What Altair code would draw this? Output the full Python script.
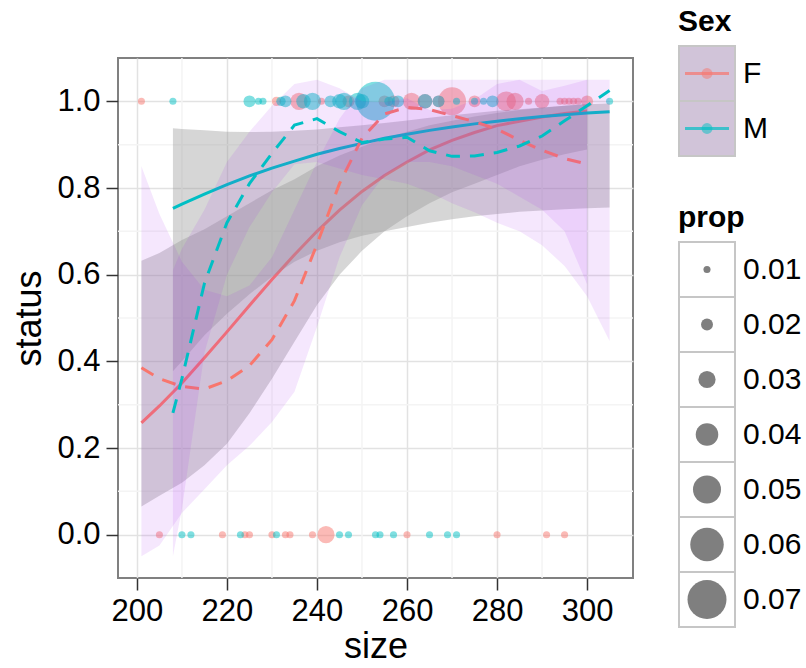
import altair as alt
import pandas as pd

FONT = "Liberation Sans"
F_COL = "#F8766D"
M_COL = "#00BFC4"

# ---------------- observed points ----------------
top_F_size = [201, 231, 236, 241, 247, 255, 257, 261, 264, 267, 270, 275, 282, 284, 287, 290, 294, 295, 296, 297, 298, 300]
top_F_prop = [0.01, 0.015, 0.03, 0.01, 0.02, 0.02, 0.02, 0.03, 0.025, 0.02, 0.05, 0.02, 0.035, 0.03, 0.01, 0.025, 0.01, 0.01, 0.01, 0.01, 0.01, 0.02]
top_M_size = [208, 225, 227, 228, 232, 233, 237, 239, 243, 245, 246, 249, 250, 253, 256, 258, 264, 267, 271, 275, 277, 279, 305]
top_M_prop = [0.01, 0.02, 0.01, 0.01, 0.015, 0.02, 0.025, 0.03, 0.02, 0.025, 0.03, 0.03, 0.025, 0.07, 0.015, 0.02, 0.025, 0.02, 0.01, 0.01, 0.01, 0.02, 0.01]
bot_F_size = [205, 219, 224, 225, 230, 233, 234, 239, 242, 260, 280, 291, 295]
bot_F_prop = [0.01, 0.01, 0.01, 0.01, 0.01, 0.01, 0.01, 0.01, 0.03, 0.01, 0.01, 0.01, 0.01]
bot_M_size = [210, 212, 223, 231, 245, 247, 253, 254, 257, 265, 269, 271]
bot_M_prop = [0.01, 0.01, 0.01, 0.01, 0.01, 0.01, 0.01, 0.01, 0.01, 0.01, 0.01, 0.01]

# ---------------- smooths ----------------
fx = [201, 205, 210, 215, 220, 225, 230, 235, 240, 245, 250, 255, 260, 265, 270, 275, 280, 285, 290, 295, 300]
f_glm = [0.258, 0.297, 0.350, 0.408, 0.468, 0.529, 0.589, 0.646, 0.700, 0.749, 0.792, 0.829, 0.860, 0.888, 0.910, 0.928, 0.944, 0.954, 0.964, 0.972, 0.978]
f_glm_lo = [0.065, 0.09, 0.12, 0.16, 0.21, 0.28, 0.36, 0.445, 0.53, 0.60, 0.655, 0.70, 0.735, 0.765, 0.79, 0.81, 0.83, 0.85, 0.865, 0.878, 0.889]
f_glm_hi = [0.632, 0.65, 0.68, 0.705, 0.735, 0.765, 0.795, 0.82, 0.85, 0.875, 0.895, 0.915, 0.93, 0.945, 0.955, 0.965, 0.973, 0.98, 0.985, 0.99, 0.994]
f_loess = [0.385, 0.36, 0.342, 0.336, 0.355, 0.39, 0.45, 0.54, 0.67, 0.81, 0.915, 0.971, 0.986, 0.981, 0.967, 0.953, 0.936, 0.91, 0.887, 0.868, 0.855]
f_loess_lo = [-0.05, -0.025, 0.05, 0.105, 0.16, 0.205, 0.26, 0.33, 0.48, 0.64, 0.76, 0.83, 0.86, 0.86, 0.85, 0.83, 0.81, 0.78, 0.75, 0.70, 0.578]
f_loess_hi = [0.85, 0.74, 0.63, 0.565, 0.55, 0.575, 0.64, 0.75, 0.86, 0.96, 1.03, 1.05, 1.05, 1.05, 1.05, 1.05, 1.05, 1.05, 1.024, 1.036, 1.05]

mx = [208, 210, 215, 220, 225, 230, 235, 240, 245, 250, 255, 260, 265, 270, 275, 280, 285, 290, 295, 300, 305]
m_glm = [0.753, 0.763, 0.786, 0.808, 0.828, 0.846, 0.862, 0.878, 0.891, 0.903, 0.915, 0.924, 0.933, 0.941, 0.948, 0.954, 0.960, 0.965, 0.969, 0.973, 0.976]
m_glm_lo = [0.377, 0.40, 0.46, 0.51, 0.555, 0.595, 0.63, 0.655, 0.675, 0.69, 0.70, 0.71, 0.72, 0.728, 0.735, 0.74, 0.745, 0.748, 0.751, 0.753, 0.755]
m_glm_hi = [0.938, 0.936, 0.933, 0.93, 0.929, 0.93, 0.932, 0.935, 0.94, 0.945, 0.95, 0.956, 0.962, 0.968, 0.973, 0.978, 0.982, 0.986, 0.99, 0.993, 0.995]
m_loess = [0.281, 0.36, 0.58, 0.72, 0.81, 0.88, 0.945, 0.96, 0.93, 0.905, 0.913, 0.917, 0.886, 0.873, 0.874, 0.882, 0.897, 0.92, 0.955, 0.99, 1.025]
m_loess_lo = [-0.05, 0.06, 0.42, 0.60, 0.71, 0.79, 0.855, 0.86, 0.845, 0.83, 0.82, 0.81, 0.79, 0.765, 0.744, 0.72, 0.70, 0.668, 0.62, 0.55, 0.447]
m_loess_hi = [0.61, 0.66, 0.75, 0.86, 0.93, 0.99, 1.04, 1.05, 1.03, 1.0, 0.998, 1.007, 0.98, 0.983, 1.004, 1.04, 1.05, 1.05, 1.05, 1.05, 1.05]

x_ticks = [200, 220, 240, 260, 280, 300]
y_ticks = [0.0, 0.2, 0.4, 0.6, 0.8, 1.0]
x_minor = [210, 230, 250, 270, 290]
y_minor = [0.1, 0.3, 0.5, 0.7, 0.9]
sex_levels = ["F", "M"]
prop_levels = [0.01, 0.02, 0.03, 0.04, 0.05, 0.06, 0.07]

# ---------------- tables ----------------
pts = pd.concat([
    pd.DataFrame({"size": top_F_size, "status": 1.0, "Sex": "F", "prop": top_F_prop}),
    pd.DataFrame({"size": top_M_size, "status": 1.0, "Sex": "M", "prop": top_M_prop}),
    pd.DataFrame({"size": bot_F_size, "status": 0.0, "Sex": "F", "prop": bot_F_prop}),
    pd.DataFrame({"size": bot_M_size, "status": 0.0, "Sex": "M", "prop": bot_M_prop}),
], ignore_index=True)
f_df = pd.DataFrame({"x": fx, "glm": f_glm, "glo": f_glm_lo, "ghi": f_glm_hi,
                     "loess": f_loess, "llo": f_loess_lo, "lhi": f_loess_hi})
m_df = pd.DataFrame({"x": mx, "glm": m_glm, "glo": m_glm_lo, "ghi": m_glm_hi,
                     "loess": m_loess, "llo": m_loess_lo, "lhi": m_loess_hi})

xs = alt.Scale(domain=[195.8, 310.2], nice=False, zero=False)
ys = alt.Scale(domain=[-0.1, 1.1], nice=False, zero=False)
color_scale = alt.Scale(domain=sex_levels, range=[F_COL, M_COL])
size_scale = alt.Scale(type="pow", exponent=2, domain=[0.01, 0.07], range=[50, 1520], zero=False)

x_axis = alt.Axis(values=x_ticks, format="d", labelFlush=False, titlePadding=3)
y_axis = alt.Axis(values=y_ticks, format=".1f")


def X(f):
    return alt.X(f"{f}:Q", scale=xs, title="size", axis=x_axis)


def Y(f):
    return alt.Y(f"{f}:Q", scale=ys, title="status", axis=y_axis)


minor_v = alt.Chart(pd.DataFrame({"v": x_minor})).mark_rule(color="#f4f4f4", strokeWidth=1.5).encode(x=X("v"))
minor_h = alt.Chart(pd.DataFrame({"v": y_minor})).mark_rule(color="#f4f4f4", strokeWidth=1.5).encode(y=Y("v"))

points = alt.Chart(pts).mark_circle(opacity=0.5).encode(
    x=X("size"), y=Y("status"),
    color=alt.Color("Sex:N", scale=color_scale, legend=None),
    size=alt.Size("prop:Q", scale=size_scale, legend=None),
)


def grey_band(df):
    return alt.Chart(df).mark_area(color="#999999", opacity=0.4).encode(x=X("x"), y=Y("glo"), y2="ghi")


def purple_band(df):
    return alt.Chart(df).mark_area(color="#A020F0", opacity=0.11).encode(x=X("x"), y=Y("llo"), y2="lhi")


def solid(df, col):
    return alt.Chart(df).mark_line(color=col, strokeWidth=3).encode(x=X("x"), y=Y("glm"))


def dashed(df, col):
    return alt.Chart(df).mark_line(color=col, strokeWidth=3, strokeDash=[14, 10]).encode(x=X("x"), y=Y("loess"))


main = alt.layer(
    minor_v, minor_h, points,
    grey_band(f_df), solid(f_df, F_COL), grey_band(m_df), solid(m_df, M_COL),
    purple_band(f_df), dashed(f_df, F_COL), purple_band(m_df), dashed(m_df, M_COL),
).properties(
    width=515, height=520,
    view=alt.ViewBackground(stroke="#808080", strokeWidth=2),
)

# thin invisible strip above the panel so the legends can start higher than the panel
spacer = alt.Chart(pd.DataFrame({"v": [0]})).mark_point(opacity=0).encode(
    x=alt.X("v:Q", axis=None), y=alt.Y("v:Q", axis=None)
).properties(width=515, height=1, view=alt.ViewBackground(strokeWidth=0))

main_col = alt.vconcat(spacer, main, spacing=6)

# ---------------- hand-built legends ----------------
sex_df = pd.DataFrame({"Sex": sex_levels, "k": "a"})
sx = alt.X("k:N", scale=alt.Scale(paddingInner=0, paddingOuter=0), axis=None)
sy = alt.Y("Sex:N", scale=alt.Scale(domain=sex_levels, paddingInner=0, paddingOuter=0), axis=None)
sbase = alt.Chart(sex_df).encode(x=sx, y=sy)
sex_leg = alt.layer(
    sbase.mark_rect(fill="#d1c4d9", stroke="#c6c6c6", strokeWidth=2),
    sbase.mark_circle(size=120, opacity=0.5).encode(color=alt.Color("Sex:N", scale=color_scale, legend=None)),
    sbase.mark_tick(orient="horizontal", size=44, thickness=3).encode(color=alt.Color("Sex:N", scale=color_scale, legend=None)),
    sbase.mark_text(align="left", dx=36, fontSize=30, font=FONT, color="black").encode(text="Sex:N"),
).properties(
    width=56, height=110,
    view=alt.ViewBackground(strokeWidth=0),
    title=alt.TitleParams(text="Sex", anchor="start", fontSize=30, fontWeight="bold", font=FONT, color="black", offset=8),
)

prop_df = pd.DataFrame({"p": prop_levels, "k": "a"})
py = alt.Y("p:O", scale=alt.Scale(paddingInner=0, paddingOuter=0), axis=None)
pbase = alt.Chart(prop_df).encode(x=sx, y=py)
prop_leg = alt.layer(
    pbase.mark_rect(fill="white", stroke="#c6c6c6", strokeWidth=2),
    pbase.mark_circle(color="#7f7f7f", opacity=1).encode(size=alt.Size("p:Q", scale=size_scale, legend=None)),
    pbase.mark_text(align="left", dx=36, fontSize=30, font=FONT, color="black").encode(text=alt.Text("p:Q", format=".2f")),
).properties(
    width=56, height=385,
    view=alt.ViewBackground(strokeWidth=0),
    title=alt.TitleParams(text="prop", anchor="start", fontSize=30, fontWeight="bold", font=FONT, color="black", offset=8),
)

legends = alt.vconcat(sex_leg, prop_leg, spacing=46)

chart = alt.hconcat(main_col, legends, spacing=43).properties(
    padding={"left": 10, "top": 7, "right": 0, "bottom": 0},
    background="white",
).configure_axis(
    labelFont=FONT, titleFont=FONT, labelFontSize=31, titleFontSize=36,
    titleFontWeight="normal", labelColor="black", titleColor="black",
    tickColor="#333333", tickSize=12, tickWidth=1.5, domain=False,
    gridColor="#e2e2e2", gridWidth=1.5, labelPadding=6, titlePadding=8,
).configure_view(strokeWidth=0)

chart.save("out.html", embed_options={"renderer": "svg", "actions": False})
